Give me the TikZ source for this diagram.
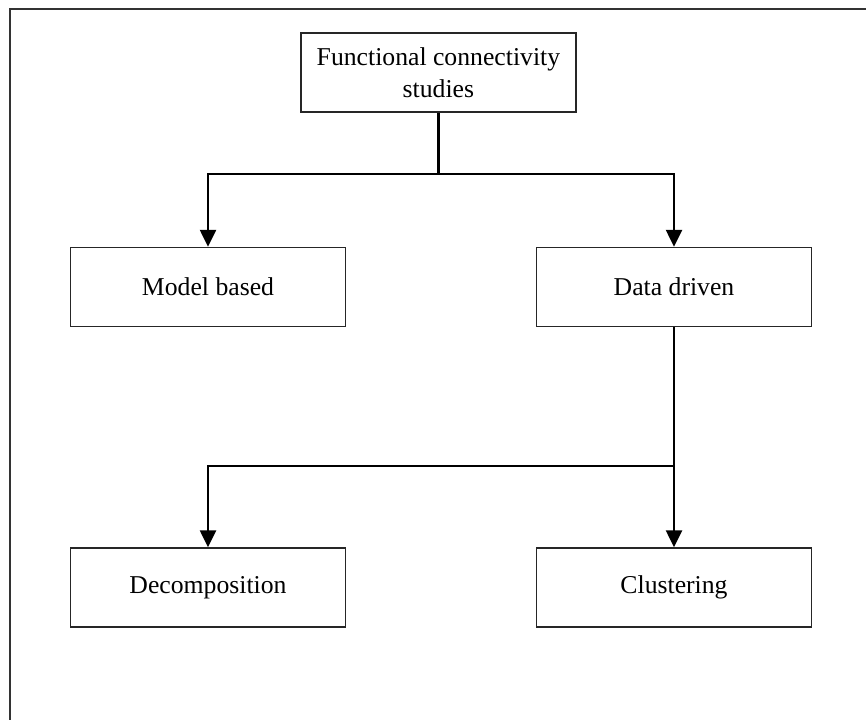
\documentclass[tikz,border=0pt]{standalone}
\usepackage{fontspec}
\setmainfont{Liberation Serif}
\usetikzlibrary{arrows.meta}
\begin{document}
\begin{tikzpicture}[x=1pt,y=-1pt,
  box/.style={draw=black!85,line width=1.5pt,minimum width=275pt,minimum height=79pt,
    inner sep=0pt,align=center,font=\fontsize{25.7}{31.5}\selectfont},
  conn/.style={draw=black,line width=2.6pt},
  arr/.style={conn,-{Triangle[width=16pt,length=17pt]}}]
\useasboundingbox (0,0) rectangle (866,720);
% outer frame
\draw[black!80,line width=2pt] (866,8.5) -- (9.5,8.5) -- (9.5,720);
% boxes
\node[box] (fcs) at (438.4,72.5) {Functional connectivity\\studies};
\node[box] (mb) at (208,287) {Model based};
\node[box] (dd) at (674,287) {Data driven};
\node[box] (dec) at (208,587.5) {Decomposition};
\node[box] (clu) at (674,587.5) {Clustering};
% first level connectors
\coordinate (j1) at (fcs.south |- 0,174);
\draw[conn] (fcs.south) -- (j1);
\draw[arr] (j1) -| (mb.north);
\draw[arr] (j1) -| (dd.north);
% second level connectors
\coordinate (j2) at (dd.south |- 0,466);
\draw[arr] (dd.south) -- (clu.north);
\draw[arr] (j2) -| (dec.north);
\end{tikzpicture}
\end{document}
